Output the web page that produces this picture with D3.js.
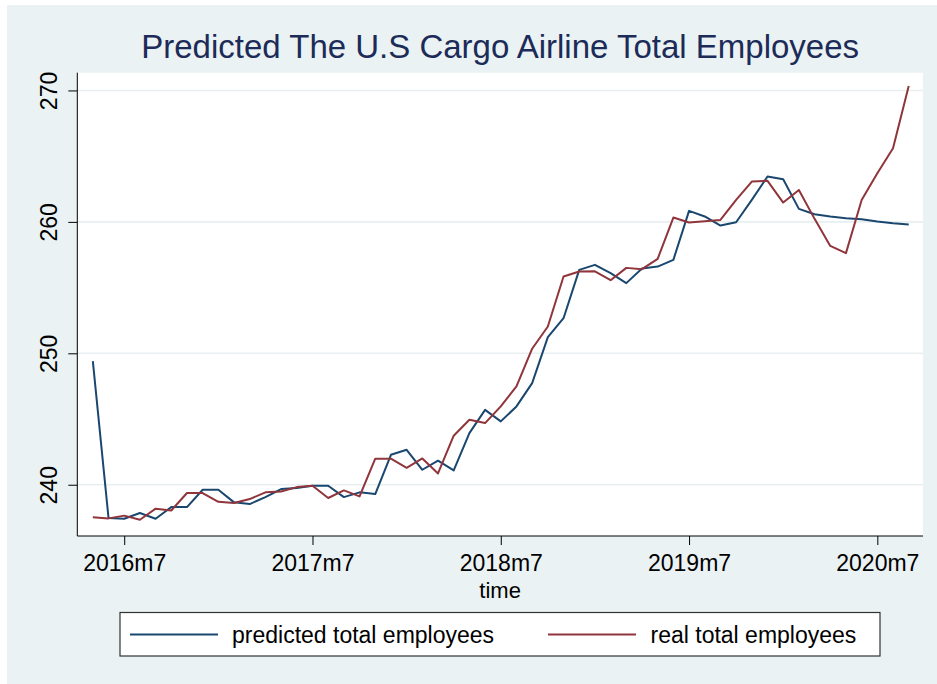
<!DOCTYPE html>
<html>
<head>
<meta charset="utf-8">
<script src="https://cdn.jsdelivr.net/npm/d3@7"></script>
<style>
  html, body { margin: 0; padding: 0; background: #ffffff; }
  svg { display: block; }
  text { font-family: "Liberation Sans", Arial, sans-serif; }
</style>
</head>
<body>
<svg id="chart" width="937" height="684"></svg>
<script>
// ---- data ----
const months = [
  "2016m5","2016m6","2016m7","2016m8","2016m9","2016m10","2016m11","2016m12",
  "2017m1","2017m2","2017m3","2017m4","2017m5","2017m6","2017m7","2017m8","2017m9","2017m10","2017m11","2017m12",
  "2018m1","2018m2","2018m3","2018m4","2018m5","2018m6","2018m7","2018m8","2018m9","2018m10","2018m11","2018m12",
  "2019m1","2019m2","2019m3","2019m4","2019m5","2019m6","2019m7","2019m8","2019m9","2019m10","2019m11","2019m12",
  "2020m1","2020m2","2020m3","2020m4","2020m5","2020m6","2020m7","2020m8","2020m9"
];
const predicted = [
  249.40, 237.47, 237.41, 237.85, 237.41, 238.30, 238.30, 239.62,
  239.62, 238.66, 238.53, 239.06, 239.67, 239.75, 239.92, 239.92, 239.06, 239.42, 239.29, 242.28,
  242.66, 241.14, 241.83, 241.09, 243.93, 245.70, 244.82, 245.96, 247.73, 251.23, 252.67, 256.35,
  256.73, 256.10, 255.34, 256.45, 256.60, 257.11, 260.84, 260.41, 259.72, 259.97, 261.67, 263.45,
  263.24, 260.99, 260.58, 260.41, 260.28, 260.20, 260.03, 259.90, 259.80
];
const real = [
  237.53, 237.44, 237.65, 237.34, 238.18, 238.04, 239.37, 239.37,
  238.70, 238.61, 238.91, 239.42, 239.49, 239.82, 239.92, 238.99, 239.57, 239.11, 241.98, 241.98,
  241.29, 242.00, 240.86, 243.73, 244.94, 244.69, 245.96, 247.48, 250.35, 252.04, 255.84, 256.22,
  256.24, 255.56, 256.50, 256.40, 257.19, 260.33, 259.95, 260.05, 260.15, 261.67, 263.07, 263.12,
  261.47, 262.43, 260.23, 258.17, 257.62, 261.67, 263.70, 265.60, 270.34
];
const xTickLabels = ["2016m7","2017m7","2018m7","2019m7","2020m7"];
const yTickValues = [240, 250, 260, 270];
const seriesNames = ["predicted total employees", "real total employees"];
const titleText = "Predicted The U.S Cargo Airline Total Employees";
const xAxisTitle = "time";

// ---- helpers ----
function monthIndex(s) {
  const [y, m] = s.split("m").map(Number);
  return (y - 2016) * 12 + (m - 7);
}

const svg = d3.select("#chart");
const W = 937, H = 684;
const plot = { left: 77.3, right: 923, top: 72.7, bottom: 536 };

// background region
svg.append("rect").attr("x", 7).attr("y", 5).attr("width", W - 7).attr("height", H - 5)
  .attr("fill", "#eaf2f3");

// plot area
svg.append("rect").attr("x", plot.left).attr("y", plot.top)
  .attr("width", plot.right - plot.left).attr("height", plot.bottom - plot.top)
  .attr("fill", "#ffffff");

const x = d3.scaleLinear().domain([-2.99, 50.91]).range([plot.left, plot.right]);
const y = d3.scaleLinear().domain([236.1, 271.35]).range([plot.bottom, plot.top]);

// gridlines
svg.append("g").selectAll("line").data(yTickValues).join("line")
  .attr("x1", plot.left).attr("x2", plot.right)
  .attr("y1", d => y(d)).attr("y2", d => y(d))
  .attr("stroke", "#e7eff1").attr("stroke-width", 1.6);

// title
svg.append("text").attr("x", (plot.left + plot.right) / 2).attr("y", 58)
  .attr("text-anchor", "middle").attr("font-size", 33).attr("fill", "#1c2b58")
  .text(titleText);

// y axis
const yAxis = d3.axisLeft(y).tickValues(yTickValues).tickSize(9).tickFormat(d3.format("d"));
const gy = svg.append("g").attr("transform", `translate(${plot.left},0)`).call(yAxis);
gy.select(".domain").attr("stroke", "#000").attr("d", `M0,${plot.top}V${plot.bottom}`);
gy.selectAll(".tick line").attr("stroke", "#000");
gy.selectAll(".tick text")
  .attr("font-size", 23).attr("fill", "#000")
  .attr("font-family", "Liberation Sans, Arial, sans-serif")
  .attr("x", null).attr("dy", null)
  .attr("text-anchor", "middle")
  .attr("transform", "translate(-20.8,0) rotate(-90)");

// x axis
const xAxis = d3.axisBottom(x).tickValues(xTickLabels.map(monthIndex)).tickSize(9)
  .tickFormat((d, i) => xTickLabels[i]);
const gx = svg.append("g").attr("transform", `translate(0,${plot.bottom})`).call(xAxis);
gx.select(".domain").attr("stroke", "#000").attr("d", `M${plot.left},0H${plot.right}`);
gx.selectAll(".tick line").attr("stroke", "#000");
gx.selectAll(".tick text")
  .attr("font-size", 23).attr("fill", "#000")
  .attr("font-family", "Liberation Sans, Arial, sans-serif")
  .attr("dy", null).attr("y", 35);

svg.append("text").attr("x", (plot.left + plot.right) / 2).attr("y", 598)
  .attr("text-anchor", "middle").attr("font-size", 22).attr("fill", "#000")
  .text(xAxisTitle);

// lines
const line = d3.line().x(d => x(d[0])).y(d => y(d[1]));
const colors = ["#1a476f", "#90353b"];
const series = [predicted, real];
series.forEach((vals, k) => {
  svg.append("path")
    .datum(months.map((m, i) => [monthIndex(m), vals[i]]))
    .attr("d", line)
    .attr("fill", "none").attr("stroke", colors[k])
    .attr("stroke-width", 2).attr("stroke-linejoin", "round");
});

// legend
const lg = svg.append("g");
lg.append("rect").attr("x", 120).attr("y", 612.5).attr("width", 760).attr("height", 43.5)
  .attr("fill", "#ffffff").attr("stroke", "#333").attr("stroke-width", 1.2);
const legendItems = [
  { x1: 130, x2: 218, tx: 232 },
  { x1: 548, x2: 636, tx: 650.5 }
];
legendItems.forEach((it, k) => {
  lg.append("line").attr("x1", it.x1).attr("x2", it.x2).attr("y1", 634.5).attr("y2", 634.5)
    .attr("stroke", colors[k]).attr("stroke-width", 2);
  lg.append("text").attr("x", it.tx).attr("y", 642.5).attr("font-size", 23).attr("fill", "#000")
    .text(seriesNames[k]);
});
</script>
</body>
</html>
